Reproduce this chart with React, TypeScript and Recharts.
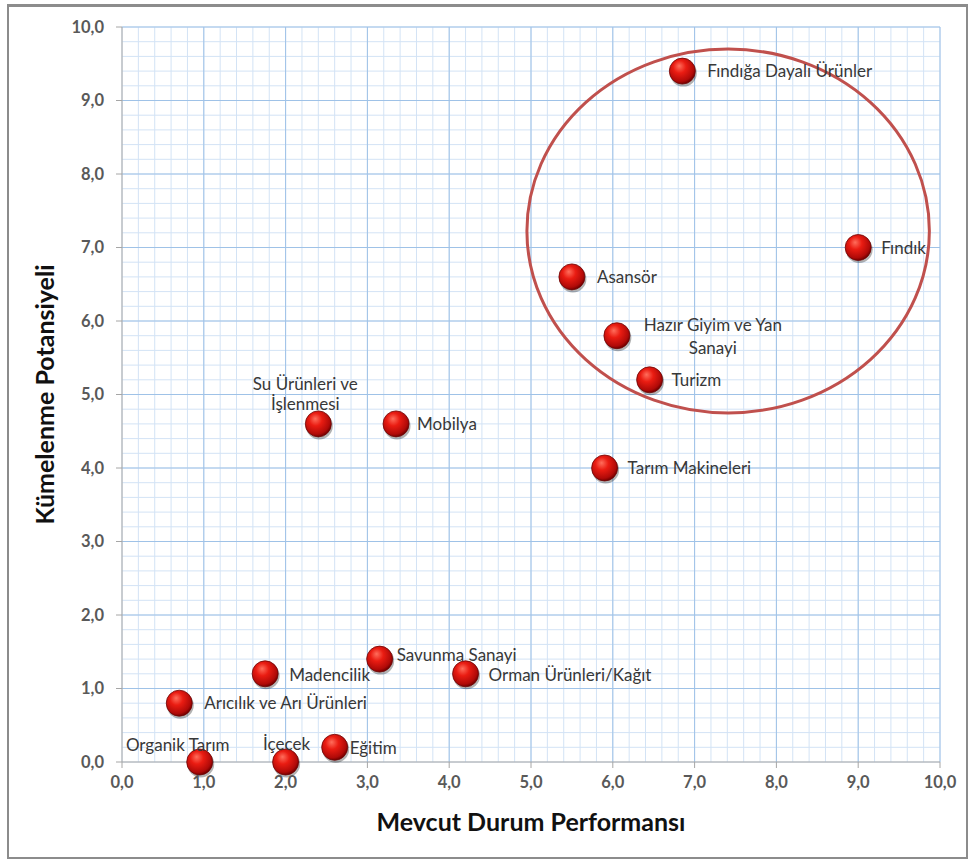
import React from "react";
import {
  ScatterChart, Scatter, XAxis, YAxis, ReferenceLine, ReferenceArea,
} from "recharts";

// sectors
const sectorNames = [
  "Fındığa Dayalı Ürünler",
  "Fındık",
  "Asansör",
  "Hazır Giyim ve Yan\nSanayi",
  "Turizm",
  "Tarım Makineleri",
  "Su Ürünleri ve\nİşlenmesi",
  "Mobilya",
  "Savunma Sanayi",
  "Orman Ürünleri/Kağıt",
  "Madencilik",
  "Arıcılık ve Arı Ürünleri",
  "Organik Tarım",
  "İçecek",
  "Eğitim",
];
const performance = [6.85, 9.0, 5.5, 6.05, 6.45, 5.9, 2.4, 3.35, 3.15, 4.2, 1.75, 0.7, 0.95, 2.0, 2.6];
const potential = [9.4, 7.0, 6.6, 5.8, 5.2, 4.0, 4.6, 4.6, 1.4, 1.2, 1.2, 0.8, 0.0, 0.0, 0.2];

const axisTicks = [0, 1, 2, 3, 4, 5, 6, 7, 8, 9, 10];
// minor grid every 0.2
const minorTicks = Array.from({ length: 51 }, (_, i) => Math.round(i * 2) / 10);

// highlighted cluster (ellipse bounds, data units)
const clusterX = [4.95, 9.87];
const clusterY = [4.75, 9.7];

const data = sectorNames.map((name, i) => ({ name, x: performance[i], y: potential[i] }));

// where each label sits relative to its marker
const labelPlacement: Record<string, { dx: number; dy: number; anchor?: "start" | "middle"; gap?: number }> = {
  "Fındığa Dayalı Ürünler": { dx: 25, dy: 6 },
  "Fındık": { dx: 23, dy: 6 },
  "Asansör": { dx: 25, dy: 6 },
  "Hazır Giyim ve Yan\nSanayi": { dx: 96, dy: -5, anchor: "middle", gap: 23 },
  "Turizm": { dx: 22, dy: 6 },
  "Tarım Makineleri": { dx: 23, dy: 6 },
  "Su Ürünleri ve\nİşlenmesi": { dx: -13, dy: -34, anchor: "middle", gap: 20 },
  "Mobilya": { dx: 21, dy: 6 },
  "Savunma Sanayi": { dx: 17, dy: 2 },
  "Orman Ürünleri/Kağıt": { dx: 23, dy: 7 },
  "Madencilik": { dx: 24, dy: 7 },
  "Arıcılık ve Arı Ürünleri": { dx: 25, dy: 6 },
  "Organik Tarım": { dx: -22, dy: -11, anchor: "middle" },
  "İçecek": { dx: 1, dy: -12, anchor: "middle" },
  "Eğitim": { dx: 15, dy: 7 },
};

const FONT = "Lato, 'Open Sans', sans-serif";
const fmt = (v: number) => v.toFixed(1).replace(".", ",");

function Ball(props: any) {
  const { cx, cy, payload } = props;
  if (cx == null || cy == null) return null;
  const place = labelPlacement[payload.name] ?? { dx: 22, dy: 6 };
  const lines = String(payload.name).split("\n");
  return (
    <g>
      <circle cx={cx + 1} cy={cy + 2} r={13.5} fill="rgba(0,0,0,0.3)" />
      <circle cx={cx} cy={cy} r={13} fill="url(#ballGrad)" stroke="#6e0606" strokeWidth={0.8} />
      <text
        x={cx + place.dx}
        y={cy + place.dy}
        textAnchor={place.anchor ?? "start"}
        fontFamily={FONT}
        fontSize={17}
        fill="#383838"
      >
        {lines.map((l, i) => (
          <tspan key={i} x={cx + place.dx} dy={i === 0 ? 0 : place.gap ?? 21}>{l}</tspan>
        ))}
      </text>
    </g>
  );
}

function ClusterEllipse(props: any) {
  const { x, y, width, height } = props;
  return (
    <ellipse
      cx={x + width / 2}
      cy={y + height / 2}
      rx={width / 2}
      ry={height / 2}
      fill="none"
      stroke="#c0504d"
      strokeWidth={3}
    />
  );
}

export default function App() {
  const tick = { fill: "#595959", fontSize: 16.5, fontWeight: 700, fontFamily: FONT };
  return (
    <div style={{ position: "absolute", left: 0, top: 0, width: 970, height: 861, background: "#fff" }}>
      <div
        style={{
          position: "absolute", left: 7, top: 4, width: 957, height: 850,
          border: "2px solid #8c8c8c", borderTopWidth: 3,
        }}
      />
      <div style={{ position: "absolute", left: 0, top: 0 }}>
        <ScatterChart width={970} height={861} margin={{ top: 27, right: 30, bottom: 59, left: 50 }}>
          <defs>
            <radialGradient id="ballGrad" cx="42%" cy="38%" r="62%" fx="38%" fy="30%">
              <stop offset="0%" stopColor="#ff6e5c" />
              <stop offset="40%" stopColor="#ea1c12" />
              <stop offset="85%" stopColor="#b00a08" />
              <stop offset="100%" stopColor="#740000" />
            </radialGradient>
          </defs>
          <XAxis
            type="number"
            dataKey="x"
            domain={[0, 10]}
            ticks={axisTicks}
            tickFormatter={fmt}
            height={40}
            tick={tick}
            tickSize={6}
            tickMargin={8}
            axisLine={{ stroke: "#a6a6a6" }}
            tickLine={{ stroke: "#a6a6a6" }}
            label={(p: any) => {
              const vb = p.viewBox;
              return (
                <text x={vb.x + vb.width / 2} y={vb.y + 69} textAnchor="middle"
                  fontFamily={FONT} fontSize={25} fontWeight={700} fill="#111">
                  Mevcut Durum Performansı
                </text>
              );
            }}
          />
          <YAxis
            type="number"
            dataKey="y"
            domain={[0, 10]}
            ticks={axisTicks}
            tickFormatter={fmt}
            width={72}
            tick={tick}
            tickSize={6}
            tickMargin={12}
            axisLine={{ stroke: "#a6a6a6" }}
            tickLine={{ stroke: "#a6a6a6" }}
            label={(p: any) => {
              const vb = p.viewBox;
              const cx = vb.x - 6;
              const cy = vb.y + vb.height / 2;
              return (
                <text x={cx} y={cy} textAnchor="middle" dominantBaseline="central"
                  transform={`rotate(-90 ${cx} ${cy})`}
                  fontFamily={FONT} fontSize={25} fontWeight={700} fill="#111">
                  Kümelenme Potansiyeli
                </text>
              );
            }}
          />
          {minorTicks.map((v) => (
            <ReferenceLine key={`mx${v}`} x={v} stroke="#d3e3f5" strokeWidth={1} zIndex={-100} />
          ))}
          {minorTicks.map((v) => (
            <ReferenceLine key={`my${v}`} y={v} stroke="#d3e3f5" strokeWidth={1} zIndex={-100} />
          ))}
          {axisTicks.slice(1).map((v) => (
            <ReferenceLine key={`Mx${v}`} x={v} stroke="#9fc2e7" strokeWidth={1} zIndex={-90} />
          ))}
          {axisTicks.slice(1).map((v) => (
            <ReferenceLine key={`My${v}`} y={v} stroke="#9fc2e7" strokeWidth={1} zIndex={-90} />
          ))}
          <ReferenceArea
            x1={clusterX[0]} x2={clusterX[1]} y1={clusterY[0]} y2={clusterY[1]}
            shape={<ClusterEllipse />}
            zIndex={500}
          />
          <Scatter data={data} shape={<Ball />} isAnimationActive={false} />
        </ScatterChart>
      </div>
    </div>
  );
}
